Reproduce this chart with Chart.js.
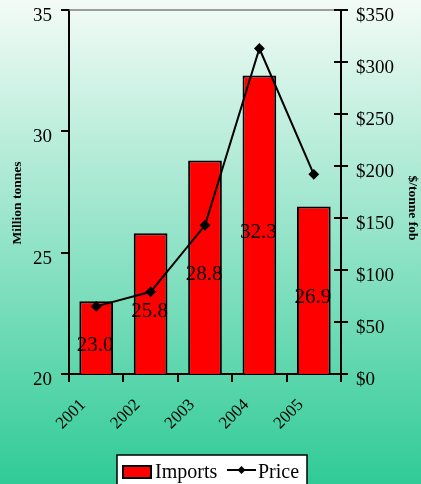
<!DOCTYPE html>
<html>
<head>
<meta charset="utf-8">
<script src="https://cdn.jsdelivr.net/npm/chart.js@4.4.1/dist/chart.umd.min.js"></script>
<style>
  html, body { margin: 0; padding: 0; background: #fff; }
  #wrap { width: 421px; height: 484px; }
</style>
</head>
<body>
<div id="wrap"><canvas id="c" width="421" height="484"></canvas></div>
<script>
// Coal imports (million tonnes) and price ($/tonne fob), 2001-2005
const years = ['2001', '2002', '2003', '2004', '2005'];
const imports = [23.0, 25.8, 28.8, 32.3, 26.9];
const price = [65, 79, 143, 313, 192];
const leftTicks = [20, 25, 30, 35];
const rightTicks = [0, 50, 100, 150, 200, 250, 300, 350];

const SERIF = '"Liberation Serif", "Times New Roman", serif';
const BAR = 0, LINE = 1;

// gradient page background
const backdrop = {
  id: 'backdrop',
  beforeDraw(chart) {
    const { ctx, width, height } = chart;
    const g = ctx.createLinearGradient(0, 0, 0, height);
    g.addColorStop(0, '#f3fbf7');
    g.addColorStop(1, '#30cb97');
    ctx.save();
    ctx.fillStyle = g;
    ctx.fillRect(0, 0, width, height);
    ctx.restore();
  }
};

// extras: top frame line, inner ticks of right axis, bar value labels, axis titles, legend
const extras = {
  id: 'extras',
  afterDraw(chart) {
    const { ctx, chartArea } = chart;
    ctx.save();
    // top frame line
    ctx.strokeStyle = '#808080';
    ctx.lineWidth = 1.5;
    ctx.beginPath();
    ctx.moveTo(chartArea.left, chartArea.top);
    ctx.lineTo(chartArea.right, chartArea.top);
    ctx.stroke();

    // right axis ticks cross into the plot
    const y1 = chart.scales.y1;
    ctx.strokeStyle = '#000';
    ctx.lineWidth = 2;
    rightTicks.forEach(v => {
      const py = Math.round(y1.getPixelForValue(v));
      ctx.beginPath();
      ctx.moveTo(chartArea.right - 7, py);
      ctx.lineTo(chartArea.right, py);
      ctx.stroke();
    });

    // value labels inside the bars
    const meta = chart.getDatasetMeta(BAR);
    const yScale = chart.scales.y;
    ctx.fillStyle = '#000';
    ctx.font = '21px ' + SERIF;
    ctx.textAlign = 'center';
    ctx.textBaseline = 'alphabetic';
    meta.data.forEach((bar, i) => {
      const p = bar.getProps(['x', 'y'], true);
      const top = yScale.getPixelForValue(imports[i]);
      const base = yScale.getPixelForValue(yScale.min);
      const cy = (top + base) / 2;
      ctx.fillText(imports[i].toFixed(1), p.x - 1, cy + 13);
    });

    // axis titles
    const mid = (chartArea.top + chartArea.bottom) / 2;
    ctx.font = 'bold 13.5px ' + SERIF;
    ctx.textBaseline = 'middle';
    ctx.save();
    ctx.translate(18, mid + 11);
    ctx.rotate(-Math.PI / 2);
    ctx.fillText('Million tonnes', 0, 0);
    ctx.restore();
    ctx.save();
    ctx.translate(412, mid + 16);
    ctx.rotate(Math.PI / 2);
    ctx.fillText('$/tonne fob', 0, 0);
    ctx.restore();

    // legend
    const bx = 117, by = 455;
    ctx.fillStyle = '#fff';
    ctx.fillRect(bx, by, 190, 40);
    ctx.strokeStyle = '#000';
    ctx.lineWidth = 1.5;
    ctx.strokeRect(bx, by, 190, 40);

    const ds = chart.data.datasets;
    ctx.fillStyle = ds[BAR].backgroundColor;
    ctx.fillRect(123, 466, 28, 12);
    ctx.lineWidth = 2;
    ctx.strokeStyle = ds[BAR].borderColor;
    ctx.strokeRect(123, 466, 28, 12);

    ctx.fillStyle = '#000';
    ctx.font = '20px ' + SERIF;
    ctx.textAlign = 'left';
    ctx.textBaseline = 'alphabetic';
    ctx.fillText(ds[BAR].label, 155, 478);

    ctx.strokeStyle = ds[LINE].borderColor;
    ctx.lineWidth = 2;
    ctx.beginPath();
    ctx.moveTo(227, 470);
    ctx.lineTo(256, 470);
    ctx.stroke();
    ctx.fillStyle = ds[LINE].pointBackgroundColor;
    ctx.beginPath();
    ctx.moveTo(241.5, 466);
    ctx.lineTo(245.5, 470);
    ctx.lineTo(241.5, 474);
    ctx.lineTo(237.5, 470);
    ctx.closePath();
    ctx.fill();
    ctx.fillStyle = '#000';
    ctx.fillText(ds[LINE].label, 258, 478);
    ctx.restore();
  }
};

new Chart(document.getElementById('c'), {
  data: {
    labels: years,
    datasets: [
      {
        type: 'bar',
        label: 'Imports',
        data: imports,
        yAxisID: 'y',
        order: 1,
        backgroundColor: '#ff0000',
        borderColor: '#000',
        borderWidth: 2,
        borderSkipped: false,
        barPercentage: 0.62,
        categoryPercentage: 1
      },
      {
        type: 'line',
        label: 'Price',
        data: price,
        yAxisID: 'y1',
        order: 0,
        borderColor: '#000',
        borderWidth: 2,
        pointStyle: 'rectRot',
        pointRadius: 4,
        pointBackgroundColor: '#000',
        pointBorderColor: '#000',
        tension: 0,
        clip: false
      }
    ]
  },
  options: {
    responsive: false,
    animation: false,
    layout: { padding: { top: 10, left: 0, right: 0, bottom: 0 } },
    plugins: { legend: { display: false }, tooltip: { enabled: false } },
    scales: {
      x: {
        offset: true,
        grid: { display: true, drawOnChartArea: false, offset: true, color: '#000', lineWidth: 2, tickLength: 8 },
        border: { display: true, color: '#000', width: 2 },
        ticks: {
          color: '#000',
          font: { family: SERIF, size: 17 },
          minRotation: 45,
          maxRotation: 45,
          labelOffset: -13,
          padding: 13
        },
        afterFit(s) { s.height = 110; s.paddingLeft = 0; s.paddingRight = 0; }
      },
      y: {
        position: 'left',
        min: 20,
        max: 35,
        afterBuildTicks(s) { s.ticks = leftTicks.map(v => ({ value: v })); },
        grid: { display: true, drawOnChartArea: false, color: '#000', lineWidth: 2, tickLength: 8 },
        border: { display: true, color: '#000', width: 2 },
        ticks: { color: '#000', font: { family: SERIF, size: 19 }, padding: 9, labelOffset: 6 },
        afterFit(s) { s.width = 69; s.paddingTop = 0; s.paddingBottom = 0; }
      },
      y1: {
        position: 'right',
        min: 0,
        max: 350,
        afterBuildTicks(s) { s.ticks = rightTicks.map(v => ({ value: v })); },
        grid: { display: true, drawOnChartArea: false, color: '#000', lineWidth: 2, tickLength: 7 },
        border: { display: true, color: '#000', width: 2 },
        ticks: { color: '#000', font: { family: SERIF, size: 19 }, padding: 8, labelOffset: 6, callback: v => '$' + v },
        afterFit(s) { s.width = 80; s.paddingTop = 0; s.paddingBottom = 0; }
      }
    }
  },
  plugins: [backdrop, extras]
});
</script>
</body>
</html>
